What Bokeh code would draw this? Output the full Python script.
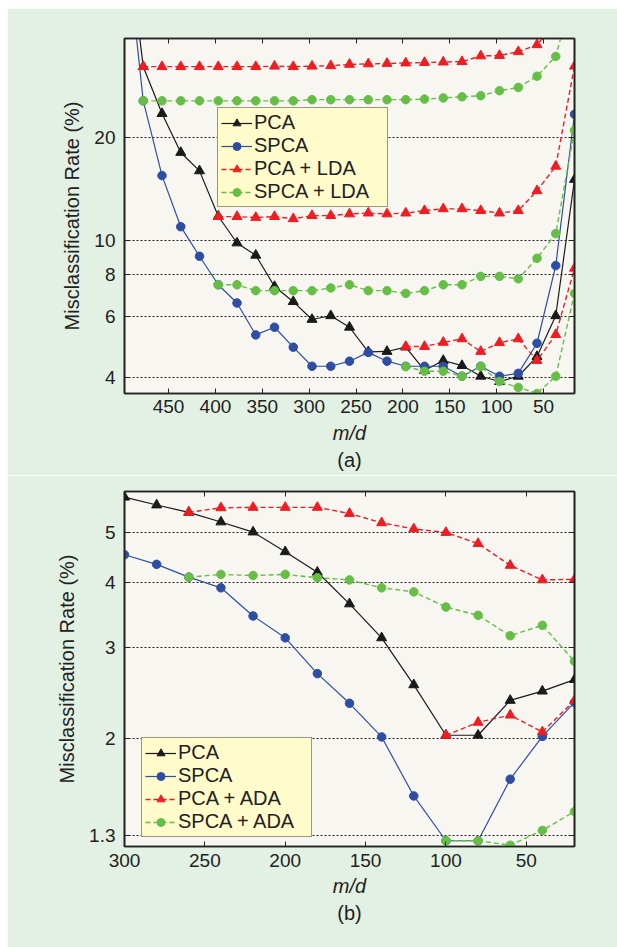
import numpy as np
from bokeh.plotting import figure
from bokeh.models import (Range1d, FixedTicker, NumeralTickFormatter, LinearAxis, LogAxis,
                          Legend, LegendItem, Title, Spacer, ColumnDataSource,
                          CustomLabelingPolicy)
from bokeh.layouts import column, row
from bokeh.embed import file_html
from bokeh.resources import INLINE

# ---------------- data: panel (a) ----------------
X_A = [497, 477, 457, 437, 417, 397, 377, 357, 337, 317, 297, 277, 257,
       237, 217, 197, 177, 157, 137, 117, 97, 77, 57, 37, 17]
PCA_A = [90, 32.2, 23.5, 18.1, 16.0, 11.8, 9.86, 9.08, 7.36, 6.65, 5.90, 6.05, 5.6,
         4.75, 4.76, 4.90, 4.19, 4.48, 4.33, 4.03, 3.89, 4.03, 4.6, 6.05, 15.1]
SPCA_A = [83, 25.6, 15.5, 11.0, 9.02, 7.45, 6.59, 5.32, 5.6, 4.90, 4.31, 4.31, 4.46,
          4.73, 4.46, 4.31, 4.31, 4.31, 4.03, 4.31, 4.03, 4.11, 5.03, 8.47, 23.4]
PCA_LDA_A1 = [None, 32.2, 32.2, 32.2, 32.2, 32.2, 32.2, 32.2, 32.3, 32.2, 32.3, 32.4, 32.7,
              32.8, 32.9, 33.0, 33.1, 33.2, 33.3, 34.6, 34.7, 35.6, 37.3, 43.2, 60]
SPCA_LDA_A1 = [None, 25.6, 25.6, 25.6, 25.6, 25.6, 25.6, 25.6, 25.6, 25.6, 25.8, 25.8, 25.8,
               25.8, 25.8, 25.8, 25.9, 26.1, 26.3, 26.5, 27.4, 28.0, 30.2, 34.5, 55]
PCA_LDA_A2 = [None, None, None, None, None, 11.77, 11.77, 11.7, 11.77, 11.6, 11.85, 11.85, 11.98,
              12.05, 11.98, 12.05, 12.25, 12.4, 12.4, 12.25, 12.05, 12.25, 14.0, 16.5, 32.3]
SPCA_LDA_A2 = [None, None, None, None, None, 7.45, 7.45, 7.16, 7.16, 7.16, 7.16, 7.29, 7.45,
               7.16, 7.16, 7.03, 7.16, 7.45, 7.45, 7.88, 7.88, 7.75, 8.9, 10.5, 21.0]
PCA_LDA_A3 = [None, None, None, None, None, None, None, None, None, None, None, None, None,
              None, None, 4.92, 4.92, 5.06, 5.18, 4.76, 5.05, 5.18, 4.48, 5.33, 8.32]
SPCA_LDA_A3 = [None, None, None, None, None, None, None, None, None, None, None, None, None,
               None, None, 4.30, 4.17, 4.17, 4.03, 4.30, 3.89, 3.74, 3.59, 4.03, 7.03]
XTICKS_A = [450, 400, 350, 300, 250, 200, 150, 100, 50]
YTICKS_A = [4, 6, 8, 10, 20]

# ---------------- data: panel (b) ----------------
X_B = [300, 280, 260, 240, 220, 200, 180, 160, 140, 120, 100, 80, 60, 40, 20]
PCA_B = [5.85, 5.65, 5.47, 5.24, 5.01, 4.59, 4.19, 3.64, 3.13, 2.54, 2.03, 2.03, 2.37, 2.47, 2.60]
SPCA_B = [4.53, 4.34, 4.10, 3.91, 3.45, 3.13, 2.67, 2.34, 2.015, 1.55, 1.27, 1.27, 1.67, 2.02, 2.35]
PCA_ADA_B1 = [None, None, 5.47, 5.58, 5.59, 5.59, 5.59, 5.44, 5.22, 5.08, 5.0, 4.76, 4.32, 4.05, 4.06]
SPCA_ADA_B1 = [None, None, 4.10, 4.15, 4.13, 4.15, 4.09, 4.05, 3.91, 3.84, 3.59, 3.46, 3.16, 3.31, 2.82]
PCA_ADA_B2 = [None, None, None, None, None, None, None, None, None, None, 2.03, 2.15, 2.22, 2.06, 2.37]
SPCA_ADA_B2 = [None, None, None, None, None, None, None, None, None, None, 1.27, 1.27, 1.245, 1.33, 1.446]
XTICKS_B = [300, 250, 200, 150, 100, 50]
YTICKS_B = [1.3, 2, 3, 4, 5]

FONT = "Liberation Sans"
GREEN_BG = "#e3f1e4"
PLOT_BG = "#f7f6f1"
INK = "#222222"
C_PCA = "#1a1a1a"
C_SPCA = "#2f4ea3"
C_RED = "#ee1d23"
C_GREEN = "#67be47"


def arr(v):
    return np.array([np.nan if a is None else a for a in v], dtype=float)


def style_axis(ax, show_labels=True):
    ax.axis_line_color = INK
    ax.axis_line_width = 1.6
    ax.major_tick_in = 5
    ax.major_tick_out = 0
    ax.major_tick_line_color = INK
    ax.major_tick_line_width = 1
    ax.minor_tick_line_color = None
    ax.major_label_text_font = FONT
    ax.major_label_text_color = INK
    ax.major_label_text_font_size = "19px"
    if not show_labels:
        ax.major_label_policy = CustomLabelingPolicy(code="return []")
        ax.major_label_standoff = 0


def make_fig(xr, yr, xticks, yticks, top, bottom, xstand, xlabstand):
    p = figure(frame_width=450, frame_height=355,
               x_range=Range1d(*xr), y_range=Range1d(*yr), y_axis_type="log",
               output_backend="svg", toolbar_location=None,
               min_border_left=117, min_border_right=43,
               min_border_top=top, min_border_bottom=bottom,
               background_fill_color=PLOT_BG, border_fill_color=GREEN_BG)
    p.outline_line_color = INK
    p.outline_line_width = 1.6
    xa = p.xaxis[0]
    xa.ticker = FixedTicker(ticks=xticks)
    style_axis(xa)
    xa.major_label_standoff = xstand
    xa.axis_label = "m/d"
    xa.axis_label_text_font = FONT
    xa.axis_label_text_font_size = "20px"
    xa.axis_label_text_font_style = "italic"
    xa.axis_label_text_color = INK
    xa.axis_label_standoff = xlabstand
    ya = p.yaxis[0]
    ya.ticker = FixedTicker(ticks=yticks)
    ya.formatter = NumeralTickFormatter(format="0.[0]")
    style_axis(ya)
    ya.major_label_standoff = 9
    ya.axis_label = "Misclassification Rate (%)"
    ya.axis_label_text_font = FONT
    ya.axis_label_text_font_size = "20px"
    ya.axis_label_text_font_style = "normal"
    ya.axis_label_text_color = INK
    ya.axis_label_standoff = 8
    top_ax = LinearAxis(ticker=FixedTicker(ticks=xticks))
    style_axis(top_ax, show_labels=False)
    p.add_layout(top_ax, "above")
    right_ax = LogAxis(ticker=FixedTicker(ticks=yticks))
    style_axis(right_ax, show_labels=False)
    p.add_layout(right_ax, "right")
    p.xgrid.visible = False
    p.ygrid.ticker = FixedTicker(ticks=yticks)
    p.ygrid.grid_line_color = INK
    p.ygrid.grid_line_width = 1
    p.ygrid.grid_line_dash = "2 2"
    return p


def series(p, x, y, color, marker, dash, lw, size):
    src = ColumnDataSource(dict(x=x, y=arr(y)))
    l = p.line("x", "y", source=src, line_color=color, line_width=lw, line_dash=dash)
    s = p.scatter("x", "y", source=src, marker=marker, size=size,
                  fill_color=color, line_color=color)
    return [l, s]


def add_legend(p, items, loc):
    leg = Legend(items=[LegendItem(label=t, renderers=r) for t, r in items], location=loc)
    leg.label_text_font = FONT
    leg.label_text_font_size = "20px"
    leg.label_text_line_height = 1.0
    leg.label_text_color = INK
    leg.glyph_width = 31
    leg.glyph_height = 20
    leg.label_height = 20
    leg.label_width = 130
    leg.label_standoff = 2
    leg.spacing = 0
    leg.padding = 3
    leg.margin = 0
    leg.border_line_color = "#333333"
    leg.border_line_width = 1.6
    leg.background_fill_color = "#fffbcb"
    leg.background_fill_alpha = 1
    p.add_layout(leg)


def caption(p, text):
    p.add_layout(Title(text=text, align="center", text_font=FONT, text_font_size="20px",
                       text_font_style="normal", text_color=INK, standoff=0), "below")


# ---------------- panel (a) ----------------
fa = make_fig((497, 17), (3.59, 38.9), XTICKS_A, YTICKS_A, 30, 82, 6, 6)
r_pca = series(fa, X_A, PCA_A, C_PCA, "triangle", "solid", 1.2, 10)
r_spca = series(fa, X_A, SPCA_A, C_SPCA, "circle", "solid", 1.2, 8.5)
r_pl1 = series(fa, X_A, PCA_LDA_A1, C_RED, "triangle", "5 3", 1.4, 10)
r_pl2 = series(fa, X_A, PCA_LDA_A2, C_RED, "triangle", "5 3", 1.4, 10)
r_pl3 = series(fa, X_A, PCA_LDA_A3, C_RED, "triangle", "5 3", 1.4, 10)
r_sl1 = series(fa, X_A, SPCA_LDA_A1, C_GREEN, "circle", "5 3", 1.4, 8.5)
r_sl2 = series(fa, X_A, SPCA_LDA_A2, C_GREEN, "circle", "5 3", 1.4, 8.5)
r_sl3 = series(fa, X_A, SPCA_LDA_A3, C_GREEN, "circle", "5 3", 1.4, 8.5)
add_legend(fa, [("PCA", r_pca), ("SPCA", r_spca), ("PCA + LDA", r_pl1), ("SPCA + LDA", r_sl1)],
           (93, 186))
caption(fa, "(a)")

# ---------------- panel (b) ----------------
fb = make_fig((300, 20), (1.238, 6.0), XTICKS_B, YTICKS_B, 12, 103, 7, 5)
b_pca = series(fb, X_B, PCA_B, C_PCA, "triangle", "solid", 1.2, 10)
b_spca = series(fb, X_B, SPCA_B, C_SPCA, "circle", "solid", 1.2, 8.5)
b_pa1 = series(fb, X_B, PCA_ADA_B1, C_RED, "triangle", "5 3", 1.4, 10)
b_pa2 = series(fb, X_B, PCA_ADA_B2, C_RED, "triangle", "5 3", 1.4, 10)
b_sa1 = series(fb, X_B, SPCA_ADA_B1, C_GREEN, "circle", "5 3", 1.4, 8.5)
b_sa2 = series(fb, X_B, SPCA_ADA_B2, C_GREEN, "circle", "5 3", 1.4, 8.5)
add_legend(fb, [("PCA", b_pca), ("SPCA", b_spca), ("PCA + ADA", b_pa1), ("SPCA + ADA", b_sa1)],
           (17, 9))
caption(fb, "(b)")

layout = column(Spacer(width=617, height=8),
                row(Spacer(width=7, height=939), column(fa, fb)))

open("out.html", "w").write(file_html(layout, INLINE))
